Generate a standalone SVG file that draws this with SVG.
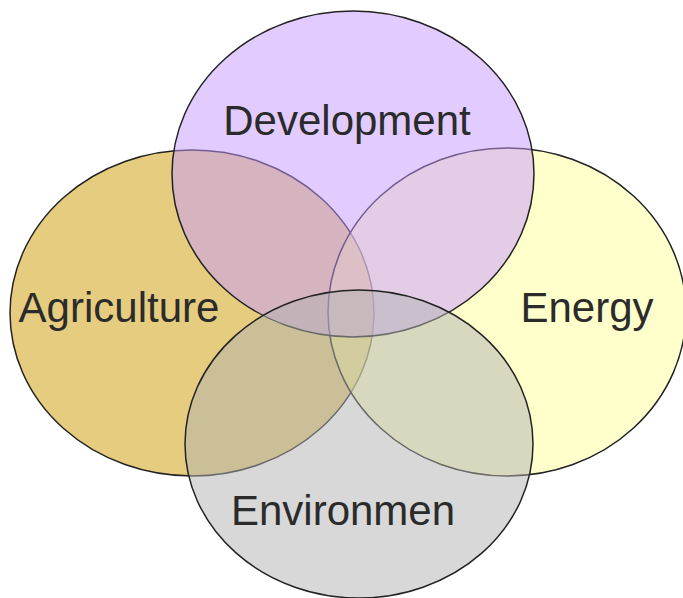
<svg xmlns="http://www.w3.org/2000/svg" width="683" height="598" viewBox="0 0 683 598">
<style>
.c{stroke:#222;stroke-width:1.5;fill-opacity:0.5}
.t{font-family:"Liberation Sans",Arial,sans-serif;font-size:42px;fill:#2b2b2b;text-anchor:middle}
</style>
<rect width="683" height="598" fill="#fff"/>
<g id="agriculture"><ellipse class="c" cx="192" cy="313" rx="182" ry="163" fill="#CC9900"/></g>
<g id="energy"><ellipse class="c" cx="507" cy="312" rx="179" ry="164" fill="#FFFF99"/></g>
<g id="development"><ellipse class="c" cx="353" cy="174" rx="181" ry="163" fill="#C599FF"/></g>
<g id="environment"><ellipse class="c" cx="359" cy="444" rx="174" ry="154" fill="#B1B1B1"/></g>
<g id="labels">
<text class="t" x="347" y="135">Development</text>
<text class="t" x="119" y="322">Agriculture</text>
<text class="t" x="587" y="322">Energy</text>
<text class="t" x="343" y="525">Environmen</text>
</g>
<g id="connectors"/>
</svg>
